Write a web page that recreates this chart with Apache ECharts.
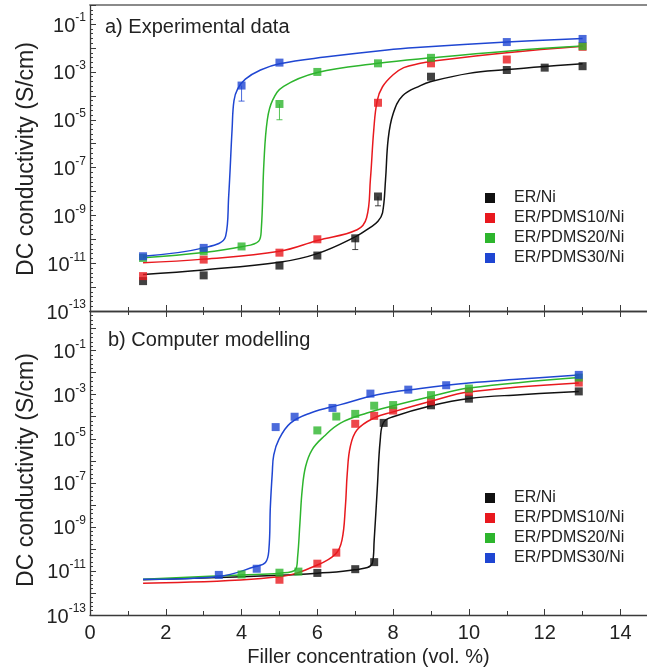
<!DOCTYPE html>
<html>
<head>
<meta charset="utf-8">
<script src="https://cdn.jsdelivr.net/npm/echarts@6/dist/echarts.min.js"></script>
<style>
  html, body { margin: 0; padding: 0; background: #fff; }
  #chart { width: 647px; height: 670px; }
</style>
</head>
<body>
<div id="chart"></div>
<script>
// all conductivities are stored as log10(S/cm), x is filler content in vol. %
const names = ['ER/Ni', 'ER/PDMS10/Ni', 'ER/PDMS20/Ni', 'ER/PDMS30/Ni'];
const colors = ['#111111', '#e8191e', '#2db52d', '#1f46d2'];

// a) experimental data - measured points
const ptsA_ErNi = [[1.4, -11.75], [3, -11.51], [5, -11.1], [6, -10.68], [7, -9.96], [7.6, -8.21], [9, -3.2], [11, -2.92], [12, -2.82], [13, -2.76]];
const ptsA_P10 = [[1.4, -11.54], [3, -10.85], [5, -10.56], [6, -10.0], [7.6, -4.29], [9, -2.64], [11, -2.48], [13, -1.95]];
const ptsA_P20 = [[1.4, -10.78], [3, -10.5], [4, -10.3], [5, -4.34], [6, -3.0], [7.6, -2.64], [9, -2.41], [13, -1.92]];
const ptsA_P30 = [[1.4, -10.71], [3, -10.36], [4, -3.57], [5, -2.61], [11, -1.75], [13, -1.62]];

// a) lower error bars [x, value, low]
const errA_ErNi = [[7, -9.96, -10.43], [7.6, -8.21, -8.6]];
const errA_P10 = [];
const errA_P20 = [[5, -4.34, -5.0]];
const errA_P30 = [[4, -3.57, -4.22]];

// a) fitted curves
const fitA_ErNi = [[1.4, -11.47], [3, -11.28], [5, -10.96], [6, -10.6], [7, -9.9], [7.4, -9.5], [7.6, -9.25], [7.72, -8.9], [7.8, -7.5], [7.87, -5.8], [8.0, -4.75], [8.25, -4.0], [8.72, -3.57], [9, -3.4], [10, -3.06], [11, -2.9], [12, -2.77], [13, -2.66]];
const fitA_P10 = [[1.4, -10.98], [3, -10.83], [5, -10.5], [6, -10.05], [7.05, -9.6], [7.3, -9.1], [7.4, -7.5], [7.49, -5.4], [7.58, -4.2], [7.72, -3.62], [8.0, -3.12], [8.28, -2.82], [8.72, -2.64], [9, -2.56], [11, -2.2], [13, -1.93]];
const fitA_P20 = [[1.4, -10.77], [3, -10.55], [4, -10.31], [4.45, -10.08], [4.52, -9.6], [4.59, -6.8], [4.68, -5.0], [4.82, -4.18], [5.11, -3.6], [6, -3.02], [7.6, -2.64], [9, -2.41], [11, -2.13], [13, -1.92]];
const fitA_P30 = [[1.4, -10.71], [3, -10.36], [3.58, -9.87], [3.66, -8.2], [3.75, -5.4], [3.8, -4.2], [3.9, -3.7], [4.1, -3.3], [4.5, -2.92], [5, -2.66], [6.2, -2.38], [7.84, -2.08], [8.72, -1.97], [11, -1.75], [13, -1.6]];

// b) computer modelling - simulated points
const ptsB_ErNi = [[6, -11.09], [7, -10.92], [7.5, -10.6], [7.75, -4.28], [9, -3.48], [10, -3.18], [12.9, -2.85]];
const ptsB_P10 = [[5, -11.4], [6, -10.67], [6.5, -10.17], [7, -4.32], [7.5, -3.96], [8, -3.72], [9, -3.3], [10, -2.87], [12.9, -2.45]];
const ptsB_P20 = [[4, -11.16], [5, -11.08], [5.5, -11.03], [6, -4.62], [6.5, -3.99], [7, -3.87], [7.5, -3.5], [8, -3.47], [9, -3.02], [10, -2.72], [12.9, -2.22]];
const ptsB_P30 = [[3.4, -11.18], [4.4, -10.9], [4.9, -4.47], [5.4, -4.0], [6.4, -3.6], [7.4, -2.95], [8.4, -2.77], [9.4, -2.57], [12.9, -2.1]];

// b) fitted curves
const fitB_ErNi = [[1.4, -11.4], [5, -11.2], [6, -11.1], [6.98, -10.95], [7.45, -10.65], [7.5, -9.6], [7.58, -7.3], [7.66, -5.05], [7.75, -4.25], [8.0, -4.0], [9, -3.5], [10, -3.17], [11.36, -3.0], [12.9, -2.85]];
const fitB_P10 = [[1.4, -11.56], [5, -11.26], [6, -10.73], [6.48, -10.23], [6.65, -9.6], [6.74, -8.08], [6.79, -6.56], [6.87, -5.35], [7.05, -4.59], [7.49, -4.06], [8.0, -3.78], [9, -3.3], [10, -2.88], [12.9, -2.47]];
const fitB_P20 = [[1.4, -11.38], [4, -11.18], [5, -11.1], [5.42, -10.95], [5.48, -10.35], [5.54, -8.83], [5.6, -7.32], [5.69, -6.26], [5.86, -5.5], [6.17, -4.9], [6.61, -4.29], [7.31, -3.83], [8.0, -3.5], [9, -3.08], [10, -2.7], [12.9, -2.22]];
const fitB_P30 = [[1.4, -11.38], [3.4, -11.25], [4.37, -10.8], [4.63, -10.62], [4.72, -10.05], [4.76, -8.08], [4.81, -6.56], [4.85, -5.73], [4.98, -5.05], [5.29, -4.29], [5.82, -3.83], [6.61, -3.45], [7.58, -3.0], [8.72, -2.72], [10, -2.47], [11.36, -2.29], [12.9, -2.1]];

const xTicks = [0, 2, 4, 6, 8, 10, 12, 14];

const FONT = 'Arial, "Liberation Sans", Helvetica, sans-serif';
const AXIS_COLOR = '#3a3a3a';

const panels = [
  { pts: [ptsA_ErNi, ptsA_P10, ptsA_P20, ptsA_P30], fit: [fitA_ErNi, fitA_P10, fitA_P20, fitA_P30], err: [errA_ErNi, errA_P10, errA_P20, errA_P30] },
  { pts: [ptsB_ErNi, ptsB_P10, ptsB_P20, ptsB_P30], fit: [fitB_ErNi, fitB_P10, fitB_P20, fitB_P30], err: [[], [], [], []] }
];

const chart = echarts.init(document.getElementById('chart'), null, { renderer: 'canvas' });

const expLabel = (v) => {
  if (!Number.isInteger(v) || Math.abs(v) % 2 !== 1) return '';
  return '{b|10}{e|' + v + '}';
};
const xLabel = (v) => (xTicks.indexOf(v) >= 0 ? String(v) : '');

const baseX = (gridIndex) => ({
  gridIndex,
  type: 'value',
  min: 0,
  max: 14.7,
  interval: 2,
  splitLine: { show: false },
  axisLine: { onZero: false, lineStyle: { color: AXIS_COLOR, width: 1.3 } },
  axisTick: { inside: true, length: 6, lineStyle: { color: AXIS_COLOR } },
  minorTick: { show: true, splitNumber: 2, length: 4, lineStyle: { color: AXIS_COLOR } },
  axisLabel: { show: false }
});

const baseY = (gridIndex, max) => ({
  gridIndex,
  type: 'value',
  min: -13,
  max,
  interval: 1,
  splitLine: { show: false },
  axisLine: { onZero: false, lineStyle: { color: AXIS_COLOR, width: 1.3 } },
  axisTick: { inside: true, length: 6, lineStyle: { color: AXIS_COLOR } },
  minorTick: { show: true, splitNumber: 5, length: 3, lineStyle: { color: AXIS_COLOR } },
  axisLabel: {
    formatter: expLabel,
    margin: 4,
    rich: {
      b: { fontSize: 20, lineHeight: 24, color: '#222', fontFamily: FONT, verticalAlign: 'bottom' },
      e: { fontSize: 12, lineHeight: 10, color: '#222', fontFamily: FONT, verticalAlign: 'top' }
    }
  }
});

const xAxes = [
  baseX(0),
  Object.assign(baseX(0), { position: 'top', axisTick: { show: false }, minorTick: { show: false }, axisLine: { onZero: false, lineStyle: { color: '#8a8a8a', width: 2 } } }),
  Object.assign(baseX(1), {
    axisLabel: { show: true, formatter: xLabel, fontSize: 20, color: '#222', fontFamily: FONT, margin: 8, showMaxLabel: false },
    name: 'Filler concentration (vol. %)',
    nameLocation: 'middle',
    nameGap: 32,
    nameTextStyle: { fontSize: 20, color: '#222', fontFamily: FONT }
  }),
  Object.assign(baseX(1), { position: 'top' })
];

const series = [];
panels.forEach((p, pi) => {
  const xIdx = pi === 0 ? 0 : 2;
  names.forEach((name, i) => {
    series.push({
      name, type: 'line', xAxisIndex: xIdx, yAxisIndex: pi,
      data: p.fit[i], showSymbol: false, smooth: 0.4,
      lineStyle: { color: colors[i], width: 1.5 }, itemStyle: { color: colors[i] },
      silent: true, z: 2
    });
  });
  names.forEach((name, i) => {
    if (!p.err[i].length) return;
    series.push({
      type: 'custom', xAxisIndex: xIdx, yAxisIndex: pi, data: p.err[i], z: 3, silent: true,
      renderItem: (params, api) => {
        const a = api.coord([api.value(0), api.value(1)]);
        const b = api.coord([api.value(0), api.value(2)]);
        const st = { stroke: colors[i], lineWidth: 1, opacity: 0.8 };
        return {
          type: 'group',
          children: [
            { type: 'line', shape: { x1: a[0], y1: a[1], x2: b[0], y2: b[1] }, style: st },
            { type: 'line', shape: { x1: b[0] - 3, y1: b[1], x2: b[0] + 3, y2: b[1] }, style: st }
          ]
        };
      }
    });
  });
  names.forEach((name, i) => {
    series.push({
      name, type: 'scatter', xAxisIndex: xIdx, yAxisIndex: pi,
      data: p.pts[i], symbol: 'rect', symbolSize: 8,
      itemStyle: { color: colors[i] }, z: 4
    });
  });
});

const legendBase = {
  data: names,
  orient: 'vertical',
  left: 480,
  icon: 'rect',
  itemWidth: 10,
  itemHeight: 10,
  itemGap: 4,
  textStyle: { fontSize: 16, lineHeight: 16, color: '#222', fontFamily: FONT, padding: [0, 0, 0, 14] }
};

chart.setOption({
  animation: false,
  backgroundColor: '#fff',
  textStyle: { fontFamily: FONT },
  title: [
    { text: 'a) Experimental data', left: 100, top: 12, textStyle: { fontSize: 20, fontWeight: 'normal', color: '#222', fontFamily: FONT } },
    { text: 'b) Computer modelling', left: 103, top: 325, textStyle: { fontSize: 20, fontWeight: 'normal', color: '#222', fontFamily: FONT } }
  ],
  legend: [
    Object.assign({}, legendBase, { top: 185 }),
    Object.assign({}, legendBase, { top: 485 })
  ],
  grid: [
    { left: 90, top: 5, width: 557, height: 306 },
    { left: 90, top: 311, width: 557, height: 304 }
  ],
  xAxis: xAxes,
  yAxis: [baseY(0, -0.2), baseY(1, 0.8)],
  graphic: [
    { type: 'text', x: 27, y: 159, rotation: Math.PI / 2, style: { text: 'DC conductivity (S/cm)', fontSize: 23, fill: '#222', fontFamily: FONT, align: 'center', verticalAlign: 'middle' } },
    { type: 'text', x: 27, y: 470, rotation: Math.PI / 2, style: { text: 'DC conductivity (S/cm)', fontSize: 23, fill: '#222', fontFamily: FONT, align: 'center', verticalAlign: 'middle' } }
  ],
  series
});

window.addEventListener('resize', () => chart.resize());
</script>
</body>
</html>
